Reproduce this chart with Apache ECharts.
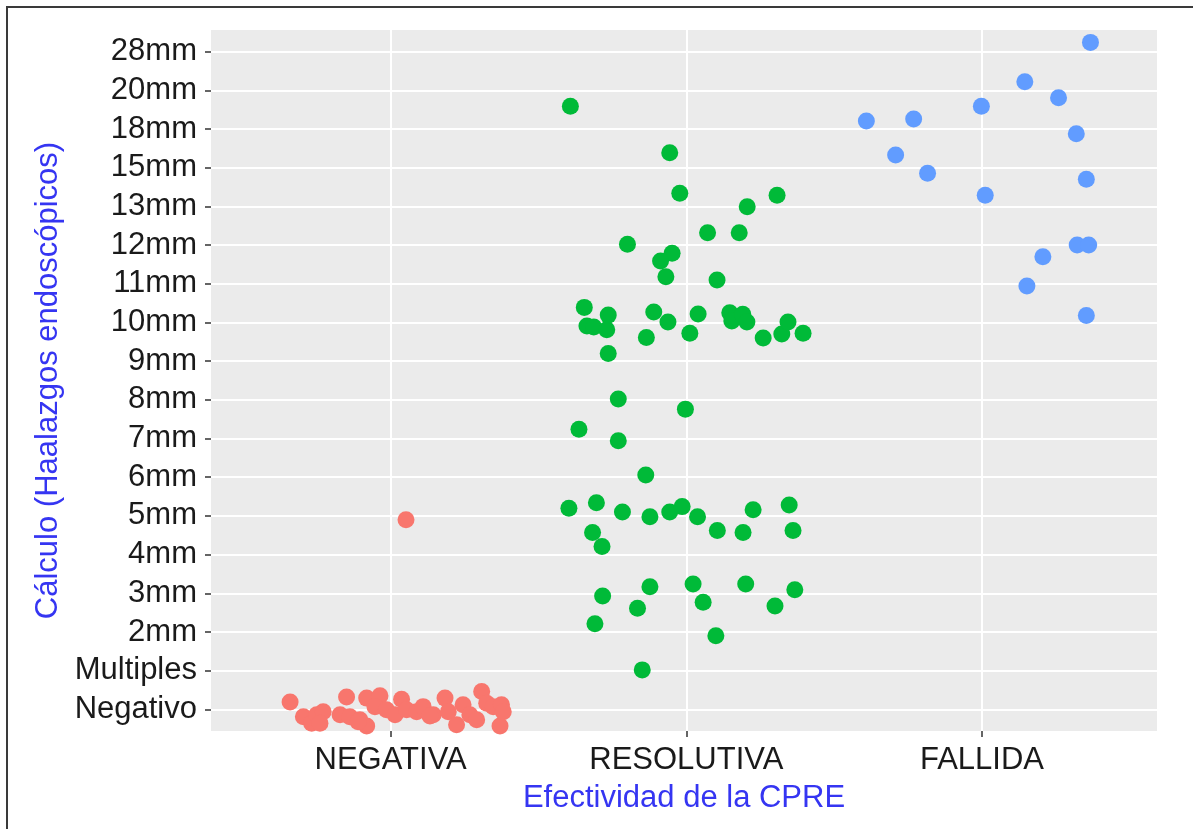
<!DOCTYPE html>
<html lang="es">
<head>
    <meta charset="UTF-8">
    <title>Cálculo vs Efectividad de la CPRE</title>
    <script src="https://cdn.jsdelivr.net/npm/echarts@6/dist/echarts.min.js"></script>
    <style>
        html, body { margin: 0; padding: 0; background: #fff; }
    </style>
</head>
<body>
<div id="main" style="width: 1193px;height: 829px;"></div>
<script>
    // categorias
    var effectLevels = ['NEGATIVA', 'RESOLUTIVA', 'FALLIDA'];
    var sizeLevels = ['Negativo', 'Multiples', '2mm', '3mm', '4mm', '5mm', '6mm', '7mm', '8mm', '9mm',
        '10mm', '11mm', '12mm', '13mm', '15mm', '18mm', '20mm', '28mm'];

    // puntos con jitter: [x, y] en unidades de categoria (1 = NEGATIVA, 0 = Negativo)
    var negativaPts = [
        [0.660, 0.19], [0.705, -0.19], [0.733, -0.36], [0.750, -0.14], [0.772, -0.06], [0.761, -0.36],
        [0.851, 0.32], [0.829, -0.14], [0.862, -0.19], [0.896, -0.27], [0.919, -0.43], [0.919, 0.29],
        [0.964, 0.35], [0.947, 0.07], [0.986, -0.01], [1.015, -0.14], [1.037, 0.26], [1.054, -0.01],
        [1.088, -0.06], [1.110, 0.07], [1.144, -0.14], [1.184, 0.29], [1.195, -0.06], [1.223, -0.40],
        [1.245, 0.12], [1.268, -0.14], [1.308, 0.46], [1.325, 0.16], [1.291, -0.27], [1.347, 0.07],
        [1.375, 0.12], [1.370, -0.43], [1.381, -0.06], [0.890, -0.32], [1.133, -0.17],
        [1.052, 4.90]
    ];
    var resolutivaPts = [
        [1.608, 15.59], [1.944, 14.39], [1.978, 13.34], [2.307, 13.29], [2.206, 12.99], [2.072, 12.32],
        [2.179, 12.32], [1.801, 12.02], [1.952, 11.79], [1.913, 11.59], [1.931, 11.18], [2.104, 11.10],
        [1.655, 10.39], [1.664, 9.91], [1.687, 9.88], [1.731, 9.81], [1.736, 10.19], [1.736, 9.20],
        [1.890, 10.27], [1.938, 10.01], [1.865, 9.61], [2.012, 9.72], [2.040, 10.22], [2.147, 10.25],
        [2.154, 10.04], [2.191, 10.21], [2.205, 10.01], [2.260, 9.60], [2.323, 9.70], [2.344, 10.01],
        [2.395, 9.72],
        [1.770, 8.02], [1.997, 7.76], [1.637, 7.24], [1.770, 6.94], [1.863, 6.06],
        [1.603, 5.20], [1.696, 5.34], [1.784, 5.10], [1.877, 4.98], [1.944, 5.10], [1.986, 5.24],
        [2.038, 4.98], [2.105, 4.62], [2.192, 4.57], [2.226, 5.16], [2.348, 5.28], [2.361, 4.62],
        [1.683, 4.57], [1.715, 4.21],
        [1.717, 2.93], [1.877, 3.17], [1.835, 2.61], [1.691, 2.21], [2.023, 3.24], [2.057, 2.77],
        [2.201, 3.24], [2.367, 3.09], [2.300, 2.67], [2.100, 1.90], [1.851, 1.02]
    ];
    var fallidaPts = [
        [3.367, 17.24], [3.145, 16.22], [3.259, 15.81], [2.998, 15.59], [2.609, 15.21], [2.769, 15.26],
        [3.319, 14.88], [2.708, 14.33], [2.816, 13.86], [3.353, 13.70], [3.011, 13.29], [3.322, 12.00],
        [3.361, 12.00], [3.206, 11.70], [3.152, 10.94], [3.353, 10.18]
    ];

    var groupColors = ['#F8766D', '#00BA38', '#619CFF'];
    var textFont = 'Liberation Sans, Arial, sans-serif';

    var myChart = echarts.init(document.getElementById('main'));
    var xTicks = effectLevels.map(function (d, i) { return i + 1; });
    var yTicks = sizeLevels.map(function (d, i) { return i; });

    function pointSeries(name, pts, color) {
        return {
            name: name,
            type: 'scatter',
            data: pts,
            symbol: 'circle',
            symbolSize: 17,
            itemStyle: { color: color, opacity: 1 },
            emphasis: { disabled: true }
        };
    }

    var option = {
        animation: false,
        backgroundColor: '#ffffff',
        textStyle: { fontFamily: textFont },
        graphic: [{
            type: 'rect',
            shape: { x: 7, y: 7, width: 1400, height: 1000 },
            style: { fill: 'none', stroke: '#3a3a3a', lineWidth: 2 },
            silent: true
        }],
        grid: {
            left: 211, top: 30, right: 36, bottom: 98,
            show: true, backgroundColor: '#EBEBEB', borderWidth: 0
        },
        xAxis: {
            type: 'value',
            min: 0.3925,
            max: 3.592,
            name: 'Efectividad de la CPRE',
            nameLocation: 'middle',
            nameGap: 52,
            nameTextStyle: { color: '#3535f2', fontSize: 31, fontFamily: textFont },
            axisLine: { show: false, onZero: false },
            axisTick: { show: true, length: 6, customValues: xTicks, lineStyle: { color: '#333', width: 1.5 } },
            axisLabel: {
                customValues: xTicks,
                margin: 14,
                color: '#1a1a1a',
                fontSize: 31,
                fontFamily: textFont,
                formatter: function (v) { return effectLevels[Math.round(v) - 1]; }
            },
            splitLine: { show: true, lineStyle: { color: '#ffffff', width: 2 } }
        },
        yAxis: {
            type: 'value',
            min: -0.56,
            max: 17.56,
            name: 'Cálculo (Haalazgos endoscópicos)',
            nameLocation: 'middle',
            nameRotate: 90,
            nameGap: 146,
            nameTextStyle: { color: '#3535f2', fontSize: 31, fontFamily: textFont },
            axisLine: { show: false, onZero: false },
            axisTick: { show: true, length: 6, customValues: yTicks, lineStyle: { color: '#333', width: 1.5 } },
            axisLabel: {
                customValues: yTicks,
                margin: 14,
                color: '#1a1a1a',
                fontSize: 31,
                fontFamily: textFont,
                formatter: function (v) { return sizeLevels[Math.round(v)]; }
            },
            splitLine: { show: true, lineStyle: { color: '#ffffff', width: 2 } }
        },
        series: [
            pointSeries(effectLevels[0], negativaPts, groupColors[0]),
            pointSeries(effectLevels[1], resolutivaPts, groupColors[1]),
            pointSeries(effectLevels[2], fallidaPts, groupColors[2])
        ]
    };
    myChart.setOption(option);
</script>
</body>
</html>
